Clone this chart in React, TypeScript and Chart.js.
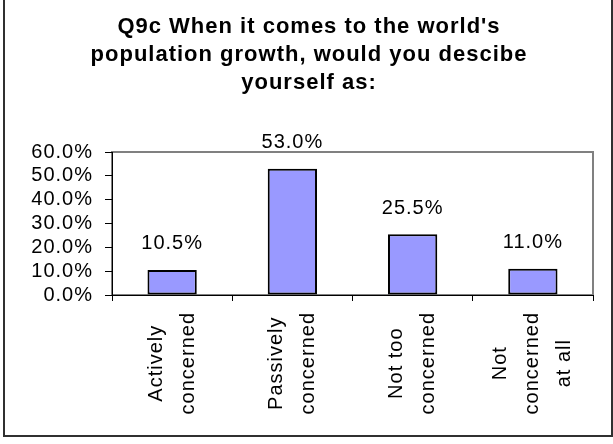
import React, { useEffect, useRef } from 'react';
import { Chart, registerables } from 'chart.js';

Chart.register(...registerables);

const titleLines = ["Q9c When it comes to the world's", 'population growth, would you descibe', 'yourself as:'];
const categoryLines = [
  ['Actively', 'concerned'],
  ['Passively', 'concerned'],
  ['Not too', 'concerned'],
  ['Not', 'concerned', 'at all'],
];
const values = [10.5, 53.0, 25.5, 11.0];
const yMin = 0;
const yMax = 60;
const yStep = 10;

const FONT = "'Liberation Sans', Arial, sans-serif";
const SPACING = '1px';
const TEXT_SIZE = 20;

const W = 613;
const H = 444;

const customPlugin = {
  id: 'customDraw',
  beforeInit(chart: any) {
    chart.ctx.letterSpacing = SPACING;
  },
  beforeLayout(chart: any) {
    chart.ctx.letterSpacing = SPACING;
  },
  beforeDraw(chart: any) {
    const ctx = chart.ctx;
    ctx.letterSpacing = SPACING;
    ctx.save();
    ctx.fillStyle = '#ffffff';
    ctx.fillRect(0, 0, W, H);
    ctx.strokeStyle = '#303030';
    ctx.lineWidth = 2;
    ctx.strokeRect(4, -6, 608, 442);
    const a = chart.chartArea;
    ctx.strokeStyle = '#808080';
    ctx.lineWidth = 2;
    ctx.strokeRect(a.left, a.top, a.right - a.left, a.bottom - a.top);
    ctx.restore();
  },
  afterDatasetsDraw(chart: any) {
    const ctx = chart.ctx;
    const a = chart.chartArea;
    ctx.save();
    ctx.letterSpacing = SPACING;
    ctx.font = `${TEXT_SIZE}px ${FONT}`;
    ctx.fillStyle = '#000000';
    ctx.textAlign = 'center';
    ctx.textBaseline = 'middle';
    const meta = chart.getDatasetMeta(0);
    meta.data.forEach((bar: any, i: number) => {
      ctx.fillText(values[i].toFixed(1) + '%', bar.x, bar.y - 26);
    });
    const xs = chart.scales.x;
    categoryLines.forEach((lines, i) => {
      const cx = xs.getPixelForValue(i);
      const maxW = Math.max(...lines.map((l) => ctx.measureText(l).width));
      const cy = a.bottom + 17 + maxW / 2;
      ctx.save();
      ctx.translate(cx, cy);
      ctx.rotate(-Math.PI / 2);
      lines.forEach((l, j) => {
        const off = (j - (lines.length - 1) / 2) * 32;
        ctx.fillText(l, 0, off);
      });
      ctx.restore();
    });
    ctx.restore();
  },
};

export default function App() {
  const ref = useRef<HTMLCanvasElement | null>(null);
  useEffect(() => {
    if (!ref.current) return;
    const chart = new Chart(ref.current, {
      type: 'bar',
      data: {
        labels: categoryLines.map((l) => l.join(' ')),
        datasets: [
          {
            data: values,
            backgroundColor: '#9999FF',
            borderColor: '#000000',
            borderWidth: 2,
            borderSkipped: false,
            barPercentage: 0.41,
            categoryPercentage: 1,
          },
        ],
      },
      options: {
        responsive: false,
        animation: false,
        devicePixelRatio: 1,
        layout: { padding: { left: 25, right: 20, top: 0, bottom: 0 } },
        plugins: {
          legend: { display: false },
          tooltip: { enabled: false },
          title: {
            display: true,
            text: titleLines,
            color: '#000000',
            font: { family: FONT, size: 22, weight: 'bold', lineHeight: 28 / 22 },
            padding: { top: 13, bottom: 55 },
          },
        },
        scales: {
          x: {
            grid: {
              display: true,
              drawOnChartArea: false,
              drawTicks: true,
              tickLength: 6,
              color: '#000000',
              offset: true,
            },
            border: { display: true, color: '#000000', width: 1 },
            ticks: { display: false },
            afterFit: (s: any) => {
              s.height = H - 295;
            },
          },
          y: {
            min: yMin,
            max: yMax,
            ticks: {
              stepSize: yStep,
              autoSkip: false,
              color: '#000000',
              padding: 12,
              font: { family: FONT, size: TEXT_SIZE },
              callback: (v: any) => Number(v).toFixed(1) + '%',
            },
            grid: {
              drawOnChartArea: false,
              drawTicks: true,
              tickLength: 7,
              color: '#000000',
            },
            border: { display: true, color: '#000000', width: 1 },
            afterFit: (s: any) => {
              s.width = 112 - 25;
            },
          },
        },
      },
      plugins: [customPlugin],
    } as any);
    return () => chart.destroy();
  }, []);
  return (
    <div style={{ position: 'absolute', left: 0, top: 0, width: W, height: H, background: '#fff' }}>
      <canvas ref={ref} width={W} height={H} style={{ display: 'block' }} />
    </div>
  );
}
